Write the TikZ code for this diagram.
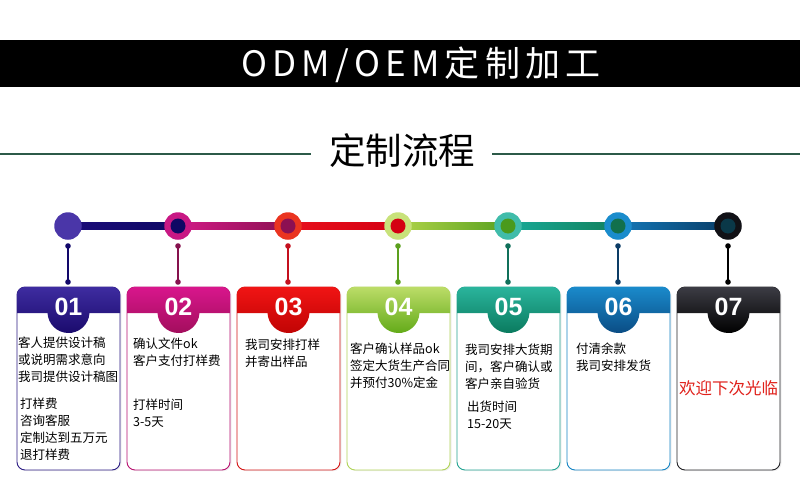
\documentclass[tikz,border=0pt]{standalone}
\usepackage{fontspec}
\setmainfont{Noto Sans CJK SC}
\newfontfamily\numfont{Liberation Sans}
\newfontfamily\titlefont[LetterSpace=15]{Noto Sans CJK SC}
\usetikzlibrary{shadows}
% colours
\definecolor{linegreen}{HTML}{2C5A48}
\definecolor{sAa}{HTML}{1C0C7A}\definecolor{sAb}{HTML}{0E0864}
\definecolor{sBa}{HTML}{D21A86}\definecolor{sBb}{HTML}{8C1052}
\definecolor{sCa}{HTML}{E8101C}\definecolor{sCb}{HTML}{D40012}
\definecolor{sDa}{HTML}{B0D448}\definecolor{sDb}{HTML}{58A020}
\definecolor{sEa}{HTML}{18AA98}\definecolor{sEb}{HTML}{12805C}
\definecolor{sFa}{HTML}{1478B8}\definecolor{sFb}{HTML}{083C66}
\definecolor{oA}{HTML}{4A36A8}\definecolor{oB}{HTML}{C81884}\definecolor{oC}{HTML}{EA3420}
\definecolor{oD}{HTML}{C8E27A}\definecolor{oE}{HTML}{40BCAA}\definecolor{oF}{HTML}{1A8CCC}
\definecolor{oG}{HTML}{111116}
\definecolor{dB}{HTML}{0E0864}\definecolor{dC}{HTML}{8C1052}\definecolor{dD}{HTML}{D40012}
\definecolor{dE}{HTML}{4A9A1C}\definecolor{dF}{HTML}{12704C}\definecolor{dG}{HTML}{0A3848}
\definecolor{vA}{HTML}{12086A}\definecolor{vB}{HTML}{86124E}\definecolor{vC}{HTML}{C4101E}
\definecolor{vD}{HTML}{5CA01E}\definecolor{vE}{HTML}{10705A}\definecolor{vF}{HTML}{0C3C66}
\definecolor{vG}{HTML}{000000}
\definecolor{bA}{HTML}{2C1C84}\definecolor{bB}{HTML}{B81070}\definecolor{bC}{HTML}{D41414}
\definecolor{bD}{HTML}{B0D458}\definecolor{bE}{HTML}{22A492}\definecolor{bF}{HTML}{1584C4}
\definecolor{bG}{HTML}{222226}
\definecolor{hAt}{HTML}{3E2CA0}\definecolor{hAb}{HTML}{1A0A6C}
\definecolor{hBt}{HTML}{D8168C}\definecolor{hBb}{HTML}{A20E5C}
\definecolor{hCt}{HTML}{F01414}\definecolor{hCb}{HTML}{C00404}
\definecolor{hDt}{HTML}{BCDC68}\definecolor{hDb}{HTML}{62AA18}
\definecolor{hEt}{HTML}{2AB49C}\definecolor{hEb}{HTML}{0A7A5E}
\definecolor{hFt}{HTML}{1A8ACB}\definecolor{hFb}{HTML}{0A4C84}
\definecolor{hGt}{HTML}{3C3C44}\definecolor{hGb}{HTML}{000000}
\definecolor{welcomered}{HTML}{E0201A}

\newcommand\cardhead[3]{%
  \shade[top color=#2, bottom color=#3]
    ({#1-51.5},313) -- ({#1-51.5},295) arc[start angle=180,end angle=270,radius=8]
    -- ({#1+43.5},287) arc[start angle=270,end angle=360,radius=8]
    -- ({#1+51.5},313) -- ({#1+20.98},313) arc[start angle=2.7,end angle=177.3,radius=21] -- cycle;
}
\newcommand\mkcard[6]{%
  \node[cardbody, draw=#3] (card#1) at (#2,378.5) {};
  \cardhead{#2}{#4}{#5}
  \node[numtxt] (num#1) at (#2,315) {#6};
}
\newcommand\mkstep[4]{% idx, x, outer, vline colour
  \node[outer, fill=#3] (o#1) at (#2,226) {};
  \coordinate (vt#1) at (#2,246);
  \coordinate (vb#1) at (#2,282);
  \draw[vline, #4] (vt#1) -- (vb#1);
  \fill[#4] (vt#1) circle[radius=2.8pt];
  \fill[#4] (vb#1) circle[radius=2.8pt];
}

\begin{document}
\begin{tikzpicture}[x=1pt,y=-1pt,
  cardbody/.style={rectangle, rounded corners=8pt, fill=white, line width=0.9pt,
    minimum width=103pt, minimum height=183pt, inner sep=0pt,
    drop shadow={opacity=0.12, shadow xshift=1.5pt, shadow yshift=-1pt}},
  numtxt/.style={font=\numfont\bfseries\fontsize{25}{25}\selectfont, text=white, anchor=base, inner sep=0pt},
  bodytxt/.style={font=\fontsize{12.5}{17}\selectfont, align=left, anchor=north west, inner sep=0pt, text=black},
  outer/.style={circle, minimum size=27.5pt, inner sep=0pt},
  innerdot/.style={circle, minimum size=15pt, inner sep=0pt},
  vline/.style={line width=1.1pt},
]
\useasboundingbox (0,0) rectangle (800,503);
\fill[white] (0,0) rectangle (800,503);

% top band
\fill[black] (0,40) rectangle (800,87);
\node[font=\titlefont\fontsize{35}{35}\selectfont, text=white, anchor=base, inner sep=0pt] (title) at (421,76) {ODM/OEM定制加工};

% subtitle
\node[font=\fontsize{36.5}{36.5}\selectfont, anchor=base, inner sep=0pt] (sub) at (402,164.5) {定制流程};
\coordinate (la) at (0,154); \coordinate (lb) at (311,154);
\coordinate (ra) at (492,154); \coordinate (rb) at (800,154);
\draw[linegreen, line width=1.2pt] (la) -- (lb);
\draw[linegreen, line width=1.2pt] (ra) -- (rb);

% timeline segments
\shade[left color=sAa, right color=sAb] (68,222.5) rectangle (178,229.5);
\shade[left color=sBa, right color=sBb] (178,222.5) rectangle (288,229.5);
\shade[left color=sCa, right color=sCb] (288,222.5) rectangle (398,229.5);
\shade[left color=sDa, right color=sDb] (398,222.5) rectangle (508,229.5);
\shade[left color=sEa, right color=sEb] (508,222.5) rectangle (618,229.5);
\shade[left color=sFa, right color=sFb] (618,222.5) rectangle (728,229.5);

\mkstep{1}{68}{oA}{vA}
\mkstep{2}{178}{oB}{vB}
\mkstep{3}{288}{oC}{vC}
\mkstep{4}{398}{oD}{vD}
\mkstep{5}{508}{oE}{vE}
\mkstep{6}{618}{oF}{vF}
\mkstep{7}{728}{oG}{vG}

\node[innerdot, fill=dB] (d2) at (178,226) {};
\node[innerdot, fill=dC] (d3) at (288,226) {};
\node[innerdot, fill=dD] (d4) at (398,226) {};
\node[innerdot, fill=dE] (d5) at (508,226) {};
\node[innerdot, fill=dF] (d6) at (618,226) {};
\node[innerdot, fill=dG] (d7) at (728,226) {};

% cards
\mkcard{1}{68.5}{bA}{hAt}{hAb}{01}
\mkcard{2}{178.5}{bB}{hBt}{hBb}{02}
\mkcard{3}{288.5}{bC}{hCt}{hCb}{03}
\mkcard{4}{398.5}{bD}{hDt}{hDb}{04}
\mkcard{5}{508.5}{bE}{hEt}{hEb}{05}
\mkcard{6}{618.5}{bF}{hFt}{hFb}{06}
\mkcard{7}{728.5}{bG}{hGt}{hGb}{07}

% card texts
\node[bodytxt] (t1a) at (18,337) {客人提供设计稿\\或说明需求意向\\我司提供设计稿图};
\node[bodytxt] (t1b) at (20,398) {打样费\\咨询客服\\定制达到五万元\\退打样费};
\node[bodytxt] (t2a) at (133,338) {确认文件ok\\客户支付打样费};
\node[bodytxt] (t2b) at (133,399) {打样时间\\3-5天};
\node[bodytxt] (t3a) at (245,339) {我司安排打样\\并寄出样品};
\node[bodytxt] (t4a) at (350,343) {客户确认样品ok\\签定大货生产合同\\并预付30\%定金};
\node[bodytxt] (t5a) at (465,344) {我司安排大货期\\间，客户确认或\\客户亲自验货};
\node[bodytxt] (t5b) at (467,401) {出货时间\\15-20天};
\node[bodytxt] (t6a) at (576,343) {付清余款\\我司安排发货};
\node[font=\fontsize{16.5}{16.5}\selectfont, text=welcomered, inner sep=0pt] (t7a) at (728.5,388) {欢迎下次光临};
\end{tikzpicture}
\end{document}
